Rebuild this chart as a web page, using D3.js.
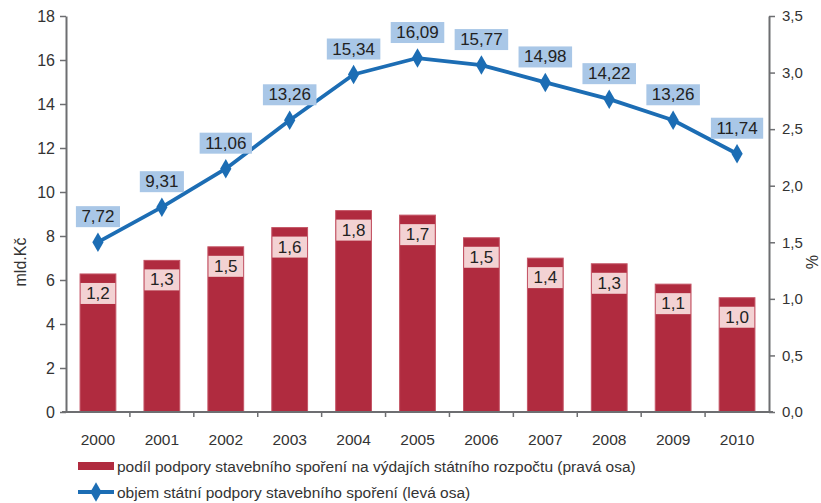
<!DOCTYPE html>
<html>
<head>
<meta charset="utf-8">
<script src="https://cdn.jsdelivr.net/npm/d3@7"></script>
<style>
  html, body { margin: 0; padding: 0; background: #fff; }
  svg { display: block; }
</style>
</head>
<body>
<svg id="chart" width="821" height="503"></svg>
<script>
const years = ["2000","2001","2002","2003","2004","2005","2006","2007","2008","2009","2010"];
const shareValues = [1.22, 1.34, 1.46, 1.63, 1.78, 1.74, 1.54, 1.36, 1.31, 1.13, 1.01];
const volumeValues = [7.72, 9.31, 11.06, 13.26, 15.34, 16.09, 15.77, 14.98, 14.22, 13.26, 11.74];
const leftTicks = [0, 2, 4, 6, 8, 10, 12, 14, 16, 18];
const rightTicks = [0, 0.5, 1, 1.5, 2, 2.5, 3, 3.5];
const leftAxisTitle = "mld.Kč";
const rightAxisTitle = "%";
const legendBar = "podíl podpory stavebního spoření na výdajích státního rozpočtu (pravá osa)";
const legendLine = "objem státní podpory stavebního spoření (levá osa)";

const svg = d3.select("#chart");
const L = 66, R = 769, T = 16, B = 412;
const axisColor = "#6d6e71";
const barColor = "#b02b3f";
const lineColor = "#1c6db4";
const comma = d => d.replace(".", ",");
const fmt1 = d => comma(d3.format(".1f")(d));
const fmt2 = d => comma(d3.format(".2f")(d));

const x = d3.scaleBand().domain(years).range([L, R]).paddingInner(0.44).paddingOuter(0.22);
const yL = d3.scaleLinear().domain([0, 18]).range([B, T]);
const yR = d3.scaleLinear().domain([0, 3.5]).range([B, T]);

// Bars
const bars = svg.append("g");
bars.selectAll("rect").data(years).join("rect")
  .attr("x", d => x(d))
  .attr("y", (d, i) => yR(shareValues[i]))
  .attr("width", x.bandwidth())
  .attr("height", (d, i) => B - yR(shareValues[i]))
  .attr("fill", barColor)
  .attr("stroke", "#c45566")
  .attr("stroke-width", 1);

// Bar labels
const barLab = svg.append("g");
years.forEach((d, i) => {
  const cx = x(d) + x.bandwidth() / 2;
  const top = yR(shareValues[i]) + 9;
  const g = barLab.append("g");
  const r = g.append("rect").attr("fill", "#f3d2d3");
  const t = g.append("text").text(fmt1(shareValues[i]))
    .attr("x", cx).attr("y", top + 10.5)
    .attr("text-anchor", "middle").attr("dominant-baseline", "central")
    .attr("font-family", "'Liberation Sans Narrow', 'Liberation Sans', sans-serif")
    .attr("font-size", 17).attr("fill", "#222");
  const w = t.node().getComputedTextLength() + 11;
  r.attr("x", cx - w / 2).attr("y", top).attr("width", w).attr("height", 21);
});

// Axes
const fontAxis = "'Liberation Sans', 'DejaVu Sans', sans-serif";
const gL = svg.append("g").attr("transform", `translate(${L},0)`)
  .call(d3.axisLeft(yL).tickValues(leftTicks).tickSize(6).tickSizeOuter(0).tickPadding(5).tickFormat(d3.format("d")));
const gR = svg.append("g").attr("transform", `translate(${R},0)`)
  .call(d3.axisRight(yR).tickValues(rightTicks).tickSize(6).tickSizeOuter(0).tickPadding(7).tickFormat(fmt1));
const gX = svg.append("g").attr("transform", `translate(0,${B})`)
  .call(d3.axisBottom(x).tickSize(0).tickSizeOuter(0).tickPadding(20));
gX.select(".domain").remove();
[gL, gR, gX].forEach(g => {
  g.selectAll(".domain").attr("stroke", axisColor).attr("stroke-width", 2);
  g.selectAll(".tick line").attr("stroke", axisColor).attr("stroke-width", 1.5);
  g.selectAll("text").attr("font-family", fontAxis).attr("font-size", 15).attr("fill", "#333");
});
gL.selectAll("text").attr("font-size", 16);
gX.selectAll("text").attr("font-size", 15.5).attr("dy", "0.32em").attr("y", 28);

// X axis line and boundary ticks
svg.append("line").attr("x1", L - 4).attr("x2", R + 4).attr("y1", B).attr("y2", B)
  .attr("stroke", axisColor).attr("stroke-width", 2);
svg.append("g").selectAll("line").data(years.slice(0, -1)).join("line")
  .attr("x1", d => x(d) + x.bandwidth() + x.step() * x.paddingInner() / 2)
  .attr("x2", d => x(d) + x.bandwidth() + x.step() * x.paddingInner() / 2)
  .attr("y1", B).attr("y2", B + 5)
  .attr("stroke", axisColor).attr("stroke-width", 1.5);

// Axis titles
svg.append("text").text(leftAxisTitle)
  .attr("transform", "translate(26,262) rotate(-90)")
  .attr("text-anchor", "middle").attr("font-family", fontAxis).attr("font-size", 16).attr("fill", "#333");
svg.append("text").text(rightAxisTitle)
  .attr("transform", "translate(806,262) rotate(90)")
  .attr("text-anchor", "middle").attr("font-family", fontAxis).attr("font-size", 16).attr("fill", "#333");

// Line
const cx = d => x(d) + x.bandwidth() / 2;
const line = d3.line().x((d, i) => cx(years[i])).y(d => yL(d));
svg.append("path").datum(volumeValues).attr("d", line)
  .attr("fill", "none").attr("stroke", lineColor).attr("stroke-width", 3.8).attr("stroke-linejoin", "round");
const diamond = d3.symbol().type(d3.symbolDiamond).size(110);
svg.append("g").selectAll("path").data(volumeValues).join("path")
  .attr("d", diamond)
  .attr("transform", (d, i) => `translate(${cx(years[i])},${yL(d)})`)
  .attr("fill", lineColor);

// Line labels
const lineLab = svg.append("g");
volumeValues.forEach((v, i) => {
  const px = cx(years[i]);
  const bottom = yL(v) - 15;
  const g = lineLab.append("g");
  const r = g.append("rect").attr("fill", "#a9c7e7");
  const t = g.append("text").text(fmt2(v))
    .attr("x", px).attr("y", bottom - 10.5)
    .attr("text-anchor", "middle").attr("dominant-baseline", "central")
    .attr("font-family", "'Liberation Sans Narrow', 'Liberation Sans', sans-serif")
    .attr("font-size", 17).attr("fill", "#222");
  const w = t.node().getComputedTextLength() + 11;
  r.attr("x", px - w / 2).attr("y", bottom - 21).attr("width", w).attr("height", 21);
});

// Legend
const leg = svg.append("g");
leg.append("rect").attr("x", 78).attr("y", 462).attr("width", 36).attr("height", 8).attr("fill", barColor);
leg.append("text").text(legendBar).attr("x", 117).attr("y", 466).attr("dominant-baseline", "central")
  .attr("font-family", fontAxis).attr("font-size", 15.5).attr("fill", "#333");
leg.append("line").attr("x1", 78).attr("x2", 114).attr("y1", 492).attr("y2", 492)
  .attr("stroke", lineColor).attr("stroke-width", 3.8);
leg.append("path").attr("d", diamond).attr("transform", "translate(96,492)").attr("fill", lineColor);
leg.append("text").text(legendLine).attr("x", 117).attr("y", 492).attr("dominant-baseline", "central")
  .attr("font-family", fontAxis).attr("font-size", 15.5).attr("fill", "#333");
</script>
</body>
</html>
